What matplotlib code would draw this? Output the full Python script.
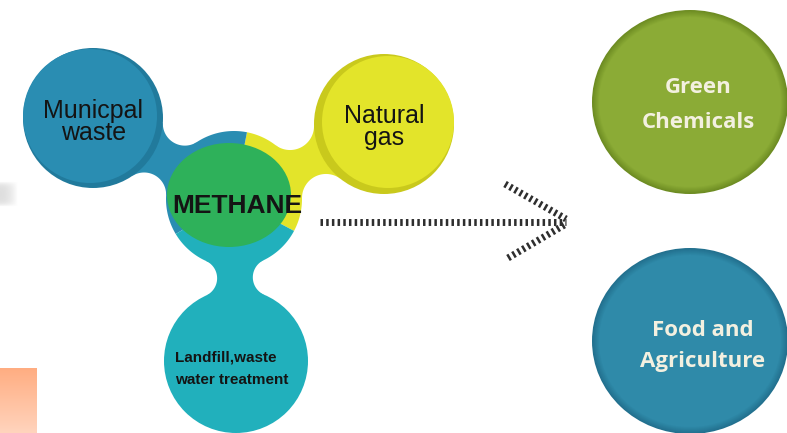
import numpy as np
import matplotlib
matplotlib.use("Agg")
import matplotlib.pyplot as plt
from matplotlib.patches import Circle, Ellipse, Polygon

W, H = 787, 433

# labels of the diagram
source_labels = [["Municpal", "waste"], ["Natural", "gas"], ["Landfill,waste", "water treatment"]]
center_label = "METHANE"
use_labels = [["Green", "Chemicals"], ["Food and", "Agriculture"]]

# colours
c_muni = "#2a8db2"
c_muni_dark = "#217a9c"
c_gas = "#e3e42a"
c_gas_dark = "#c9c91c"
c_land = "#21b0bc"
c_green = "#2eb15a"
c_chem = "#8bab36"
c_chem_dark = "#6d8c22"
c_food = "#2f8aa9"
c_food_dark = "#22708e"
c_text_light = "#f3f0e0"

# layout (pixel coordinates, y from top)
meth_c, meth_r = (234, 199), 68
muni_c, muni_r = (93, 118), 70
gas_c, gas_r = (384, 124), 70
land_c, land_r = (236, 361), 72
chem_c = (690, 102)
food_c = (690, 341)


def neck(ax, cA, rA, cB, rB, rf, color):
    # smooth bridge between two circles made of two fillet arcs
    cA, cB = np.array(cA, float), np.array(cB, float)
    d = np.linalg.norm(cB - cA)
    u = (cB - cA) / d
    n = np.array([-u[1], u[0]])
    a, b = rA + rf, rB + rf
    x = (d * d + a * a - b * b) / (2 * d)
    h = np.sqrt(a * a - x * x)
    parts = []
    for s in (1, -1):
        cf = cA + x * u + s * h * n
        angA = np.arctan2(*(cA - cf)[::-1])
        angB = np.arctan2(*(cB - cf)[::-1])
        diff = (angB - angA + np.pi) % (2 * np.pi) - np.pi
        t = angA + diff * np.linspace(0, 1, 60)
        arc = cf + rf * np.column_stack([np.cos(t), np.sin(t)])
        parts.append(arc if s == 1 else arc[::-1])
    ax.add_patch(Polygon(np.vstack(parts), closed=True, color=color, lw=0, zorder=1))


def sector(ax, c, r, a1, a2, color, z):
    # a1, a2 in visual degrees (counter-clockwise, y axis is flipped)
    t = np.radians(np.linspace(a1, a2, 80))
    pts = np.column_stack([c[0] + r * np.cos(t), c[1] - r * np.sin(t)])
    pts = np.vstack([[c[0], c[1]], pts])
    ax.add_patch(Polygon(pts, closed=True, color=color, lw=0, zorder=z))


def bevel(ax, c, w, h, dark, main):
    dark = np.array(matplotlib.colors.to_rgb(dark))
    main = np.array(matplotlib.colors.to_rgb(main))
    steps = 8
    for i in range(steps):
        f = i / (steps - 1)
        col = dark * (1 - f) + main * f
        ax.add_patch(Ellipse(c, w - 2 * i, h - 2 * i, color=col, lw=0, zorder=2))


fig = plt.figure(figsize=(W / 100, H / 100), dpi=100)
ax = fig.add_axes([0, 0, 1, 1])
fig.patch.set_facecolor("white")

# faint grey smudge at the left edge
gx = np.linspace(0, 1, 40)[None, :]
gy = np.linspace(-1, 1, 30)[:, None]
smudge = np.zeros((30, 40, 4))
smudge[..., :3] = 0.72
smudge[..., 3] = 0.45 * np.clip(1 - gx ** 2, 0, 1) * np.clip(1 - gy ** 4, 0, 1)
ax.imshow(smudge, extent=[0, 18, 207, 181], aspect="auto", zorder=0)

# orange gradient block bottom-left
grad = np.linspace(0, 1, 50)[:, None]
top = np.array([1.0, 0.68, 0.51])
bot = np.array([1.0, 0.83, 0.74])
img = top[None, None, :] * (1 - grad[..., None]) + bot[None, None, :] * grad[..., None]
ax.imshow(img, extent=[0, 37, 433, 368], aspect="auto", zorder=0)

# necks
neck(ax, muni_c, muni_r, meth_c, meth_r, 22, c_muni)
neck(ax, gas_c, gas_r, meth_c, meth_r, 24, c_gas)
neck(ax, land_c, land_r, meth_c, meth_r, 19, c_land)

# source circles with a little shading
ax.add_patch(Circle(muni_c, muni_r, color=c_muni_dark, lw=0, zorder=2))
ax.add_patch(Circle((muni_c[0] - 3, muni_c[1] - 2), muni_r - 3, color=c_muni, lw=0, zorder=2))
ax.add_patch(Circle(gas_c, gas_r, color=c_gas_dark, lw=0, zorder=2))
ax.add_patch(Circle((gas_c[0] + 4, gas_c[1] - 2), gas_r - 4, color=c_gas, lw=0, zorder=2))
ax.add_patch(Circle(land_c, land_r, color=c_land, lw=0, zorder=2))

# methane hub
sector(ax, meth_c, meth_r, -28, 79, c_gas, 3)
sector(ax, meth_c, meth_r, 79, 211, c_muni, 3)
sector(ax, meth_c, meth_r, 211, 332, c_land, 3)
ax.add_patch(Ellipse((229, 195), 124, 104, color=c_green, lw=0, zorder=4))

tk = dict(family=["Liberation Sans", "DejaVu Sans"], color="#141414", zorder=6)
ax.text(93, 118, source_labels[0][0], fontsize=18, ha="center", va="baseline", **tk)
ax.text(94, 140, source_labels[0][1], fontsize=18, ha="center", va="baseline", **tk)
ax.text(384, 123, source_labels[1][0], fontsize=18, ha="center", va="baseline", **tk)
ax.text(384, 145, source_labels[1][1], fontsize=18, ha="center", va="baseline", **tk)
ax.text(175, 362, source_labels[2][0], fontsize=11, fontweight="bold", ha="left", va="baseline", **tk)
ax.text(175, 384, source_labels[2][1], fontsize=11, fontweight="bold", ha="left", va="baseline", **tk)
ax.text(237, 213, center_label, fontsize=19, fontweight="heavy", ha="center", va="baseline", **tk)

# dotted arrow
dash = dict(color="#2e2e2e", lw=5, linestyle=(0, (0.36, 0.46)), zorder=5)
ax.plot([320, 566], [222, 222], **dash)
ax.plot([505, 566], [184, 219], **dash)
ax.plot([508, 566], [258, 224], **dash)

# outcome bubbles
bevel(ax, chem_c, 196, 184, c_chem_dark, c_chem)
bevel(ax, food_c, 196, 186, c_food_dark, c_food)
tr = dict(family=["Open Sans", "DejaVu Sans"], color=c_text_light, fontsize=16,
          fontweight="bold", ha="center", va="baseline", zorder=6)
ax.text(698, 93, use_labels[0][0], **tr)
ax.text(698, 128, use_labels[0][1], **tr)
ax.text(703, 336, use_labels[1][0], **tr)
ax.text(703, 367, use_labels[1][1], **tr)

ax.set_xlim(0, W)
ax.set_ylim(H, 0)
ax.axis("off")
fig.savefig("out.png", dpi=100, facecolor="white")
